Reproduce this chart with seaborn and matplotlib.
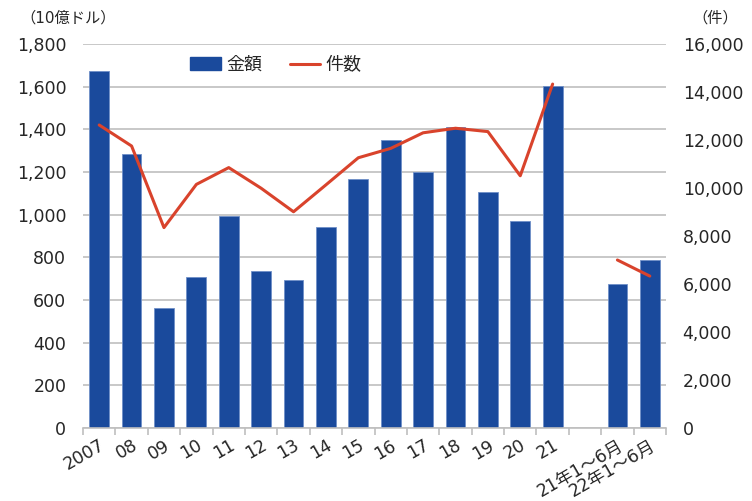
import numpy as np
import pandas as pd
import matplotlib
matplotlib.use('Agg')
import matplotlib.pyplot as plt
import seaborn as sns
from matplotlib.ticker import FuncFormatter, FixedLocator
from matplotlib.patches import Patch
from matplotlib.lines import Line2D

# Datos
categorias = ['2007', '08', '09', '10', '11', '12', '13', '14', '15', '16',
              '17', '18', '19', '20', '21', ' ', '21年1～6月', '22年1～6月']
monto = [1675, 1283, 561, 706, 995, 734, 692, 941, 1166, 1348,
         1199, 1411, 1106, 970, 1605, np.nan, 675, 789]
numero = [12625, 11750, 8350, 10150, 10850, 9990, 9010, 10130, 11260, 11650,
          12300, 12490, 12350, 10510, 14330, np.nan, 7000, 6330]
tramo = [0] * 15 + [0] + [1, 1]

sns.set_theme(style='white')
plt.rcParams['font.family'] = ['DejaVu Sans', 'Noto Sans CJK JP']

color_barra = '#1a4a9c'
color_linea = '#d9432c'
color_grid = '#bfbfbf'

df = pd.DataFrame({'cat': categorias, 'monto': monto, 'numero': numero,
                   'tramo': tramo, 'pos': np.arange(len(categorias))})

fig = plt.figure(figsize=(7.52, 5.01), dpi=100)
ax = fig.add_axes([83 / 752, 1 - 428 / 501, (666 - 83) / 752, (428 - 44) / 501])

sns.barplot(data=df.dropna(subset=['monto']), x='cat', y='monto', order=categorias,
            color=color_barra, saturation=1, width=0.61, edgecolor='#6f8fc8',
            linewidth=0.6, ax=ax, zorder=2)
ax.set_xlim(-0.5, len(categorias) - 0.5)
ax.set_ylim(0, 1800)
ax.set_yticks(range(0, 1801, 200))
ax.yaxis.set_major_formatter(FuncFormatter(lambda v, p: f'{int(v):,}'))
ax.grid(axis='y', color=color_grid, linewidth=1.2, zorder=0)
ax.set_axisbelow(True)
ax.set_xlabel('')
ax.set_ylabel('')

# Eje derecho
ax2 = ax.twinx()
linea = df.dropna(subset=['numero'])
sns.lineplot(data=linea, x='pos', y='numero', units='tramo', estimator=None,
             color=color_linea, linewidth=2.2, ax=ax2, zorder=3)
ax2.set_ylim(0, 16000)
ax2.set_yticks(range(0, 16001, 2000))
ax2.yaxis.set_major_formatter(FuncFormatter(lambda v, p: f'{int(v):,}'))
ax2.set_xlim(-0.5, len(categorias) - 0.5)
ax2.set_xlabel('')
ax2.set_ylabel('')

for a in (ax, ax2):
    for s in a.spines.values():
        s.set_visible(False)
    a.tick_params(axis='y', length=0, labelsize=12.5, labelcolor='#262626', pad=12)
ax.spines['bottom'].set_visible(True)
ax.spines['bottom'].set_color('#bfbfbf')
ax.spines['bottom'].set_linewidth(1.2)

# Marcas entre categorías
ax.set_xticks(range(len(categorias)))
ax.set_xticklabels(categorias, rotation=30, ha='right', rotation_mode='anchor',
                   fontsize=12.5, color='#262626')
ax.tick_params(axis='x', which='major', length=0, pad=6)
ax.xaxis.set_minor_locator(FixedLocator(np.arange(-0.5, len(categorias), 1)))
ax.tick_params(axis='x', which='minor', length=5, color='#bfbfbf', width=1.2, bottom=True)
ax.tick_params(axis='x', which='major', bottom=True)

# Unidades
fig.text(20 / 752, 1 - 18 / 501, '（10億ドル）', fontsize=11, color='#262626', va='center')
fig.text(692 / 752, 1 - 18 / 501, '（件）', fontsize=11, color='#262626', va='center')

# Leyenda
handles = [Patch(facecolor=color_barra, edgecolor=color_barra),
           Line2D([0], [0], color=color_linea, linewidth=2.2)]
fig.legend(handles, ['金額', '件数'], ncol=2, frameon=False, loc='center',
           bbox_to_anchor=(276 / 752, 1 - 65 / 501), fontsize=13,
           handlelength=1.7, handletextpad=0.3, columnspacing=1.5)

plt.savefig('out.png', dpi=100)
plt.close()
